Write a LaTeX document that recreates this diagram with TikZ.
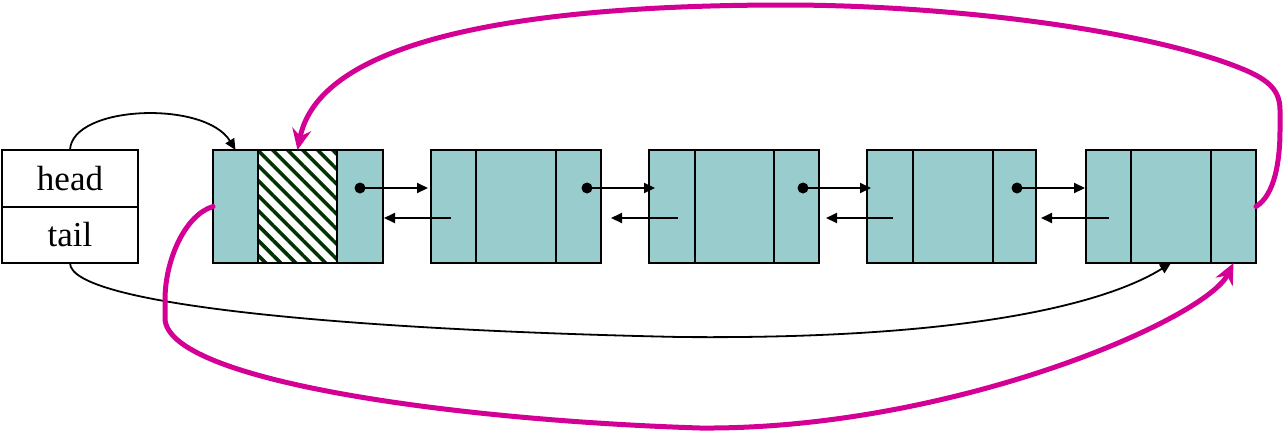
\documentclass[tikz,border=0pt]{standalone}
\usepackage{fontspec}
\setmainfont{Liberation Serif}
\usetikzlibrary{arrows.meta,patterns.meta}
\definecolor{cellfill}{RGB}{153,204,204}
\definecolor{hatchgreen}{RGB}{0,51,0}
\definecolor{mag}{RGB}{212,0,150}
\begin{document}
\begin{tikzpicture}[x=1pt,y=-1pt,
  cellbase/.style={draw=black,line width=2pt,minimum height=113pt,inner sep=0pt,outer sep=0pt,anchor=north west},
  cell/.style={cellbase,fill=cellfill},
  hcell/.style={cellbase,pattern={Lines[angle=-45,distance=10.6pt,line width=3.6pt]},pattern color=hatchgreen},
  ptrbox/.style={draw=black,line width=2pt,fill=white,minimum width=136pt,minimum height=56.5pt,inner sep=0pt,outer sep=0pt,font=\fontsize{35}{40}\selectfont},
  dotn/.style={circle,fill=black,minimum size=11pt,inner sep=0pt,outer sep=0pt},
  blk/.style={draw=black,line width=2pt,-{Triangle[length=11pt,width=10pt]}},
  thin/.style={draw=black,line width=1.8pt,-{Triangle[length=11pt,width=10pt]}},
  magline/.style={draw=mag,line width=5pt,line cap=round,-{Stealth[length=21pt,width=19pt,inset=7pt]}}
]
\fill[white] (0,0) rectangle (1284,432);
\useasboundingbox (0,0) rectangle (1284,432);

% head / tail box
\node[ptrbox] (headbox) at (70,178.25) {head};
\node[ptrbox] (tailbox) at (70,234.75) {tail};

% list nodes
\node[cell,minimum width=45pt] (n1a) at (213,150) {};
\node[hcell,minimum width=79pt] (n1b) at (258,150) {};
\node[cell,minimum width=46pt] (n1c) at (337,150) {};

\node[cell,minimum width=45pt] (n2a) at (431,150) {};
\node[cell,minimum width=80pt] (n2b) at (476,150) {};
\node[cell,minimum width=45pt] (n2c) at (556,150) {};

\node[cell,minimum width=46pt] (n3a) at (649,150) {};
\node[cell,minimum width=79pt] (n3b) at (695,150) {};
\node[cell,minimum width=45pt] (n3c) at (774,150) {};

\node[cell,minimum width=46pt] (n4a) at (867,150) {};
\node[cell,minimum width=80pt] (n4b) at (913,150) {};
\node[cell,minimum width=43pt] (n4c) at (993,150) {};

\node[cell,minimum width=45pt] (n5a) at (1086,150) {};
\node[cell,minimum width=80pt] (n5b) at (1131,150) {};
\node[cell,minimum width=45pt] (n5c) at (1211,150) {};

% next pointers
\node[dotn] (p1) at (360,188) {};
\node[dotn] (p2) at (587,188) {};
\node[dotn] (p3) at (803,188) {};
\node[dotn] (p4) at (1017,188) {};
\coordinate (t1) at (428,188);
\coordinate (t2) at (655,188);
\coordinate (t3) at (871,188);
\coordinate (t4) at (1085,188);
\draw[blk] (p1.center) -- (t1);
\draw[blk] (p2.center) -- (t2);
\draw[blk] (p3.center) -- (t3);
\draw[blk] (p4.center) -- (t4);

% prev pointers
\coordinate (b2s) at (451,218); \coordinate (b2e) at (384,218);
\coordinate (b3s) at (678,218); \coordinate (b3e) at (611,218);
\coordinate (b4s) at (893,218); \coordinate (b4e) at (826,218);
\coordinate (b5s) at (1109,218); \coordinate (b5e) at (1041,218);
\draw[blk] (b2s) -- (b2e);
\draw[blk] (b3s) -- (b3e);
\draw[blk] (b4s) -- (b4e);
\draw[blk] (b5s) -- (b5e);

% head and tail pointers
\draw[thin] (headbox.north) .. controls (72,105) and (205,100) .. (n1a.north);
\draw[thin] (tailbox.south) .. controls (70,305) and (350,330) .. (680,337)
  .. controls (1000,340) and (1120,295) .. (n5b.south);

% circular links
\draw[magline] (n1a.west) .. controls (185,215) and (165,260) .. (165,300) -- (165,318)
  .. controls (165,380) and (450,420) .. (700,428)
  .. controls (950,430) and (1205,320) .. (n5c.south);
\draw[magline] (n5c.east) .. controls (1275,195) and (1280,160) .. (1280,130) -- (1280,110)
  .. controls (1280,90) and (1268,80) .. (1245,70)
  .. controls (1150,30) and (950,5) .. (785,5)
  .. controls (520,5) and (320,40) .. (n1b.north);
\end{tikzpicture}
\end{document}
